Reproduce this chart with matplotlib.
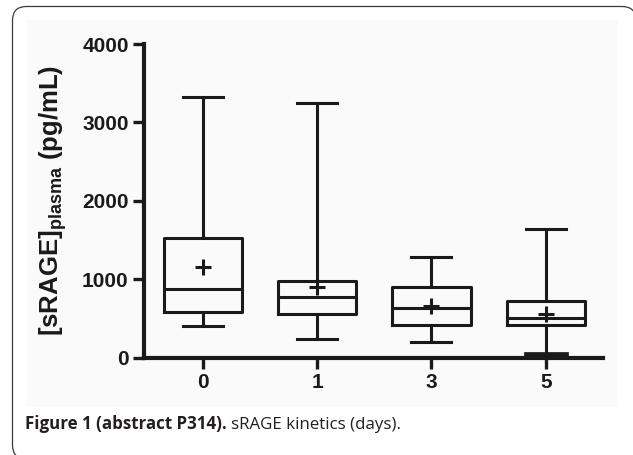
import matplotlib
matplotlib.use("Agg")
import matplotlib.pyplot as plt
from matplotlib.patches import PathPatch, Rectangle
from matplotlib.path import Path
from matplotlib.transforms import IdentityTransform

# ---- data ----
days = ['0', '1', '3', '5']
q1 = [587, 553, 412, 417]
median = [871, 774, 638, 510]
q3 = [1522, 978, 901, 723]
whislo = [404, 242, 200, 45]
whishi = [3328, 3244, 1284, 1637]
mean = [1160, 901, 659, 561]
yticks = [0, 1000, 2000, 3000, 4000]

plt.rcParams['mathtext.fontset'] = 'custom'
plt.rcParams['mathtext.bf'] = 'Liberation Sans:bold'
plt.rcParams['mathtext.rm'] = 'Liberation Sans'

W, H = 633, 455
fig = plt.figure(figsize=(W / 100, H / 100), dpi=100)
fig.patch.set_facecolor('white')

# light grey image region behind the chart
fig.add_artist(Rectangle((27, H - 407), 591, 387, transform=IdentityTransform(),
                         facecolor='#fafafa', edgecolor='none', zorder=0))

# open rounded frame: top edge, left edge, and corners (pixel coordinates)
xl, yt, xr, yb, r = 12.5, H - 6.5, 636.0, -4.0, 14.0
verts = [(xl + r + 20, yb), (xl + r, yb), (xl, yb), (xl, yb + r),
         (xl, yt - r), (xl, yt), (xl + r, yt),
         (xr - r, yt), (xr, yt), (xr, yt - r), (xr, yt - 60)]
codes = [Path.MOVETO, Path.LINETO, Path.CURVE3, Path.CURVE3,
         Path.LINETO, Path.CURVE3, Path.CURVE3,
         Path.LINETO, Path.CURVE3, Path.CURVE3, Path.LINETO]
fig.add_artist(PathPatch(Path(verts, codes), transform=IdentityTransform(),
                         facecolor='none', edgecolor='#3a3a3a', linewidth=0.9, zorder=1))

ax = fig.add_axes([144 / W, (H - 357.7) / H, (603 - 144) / W, (357.7 - 44) / H])
ax.set_facecolor('none')

stats = []
for i in range(len(days)):
    stats.append(dict(label=days[i], q1=q1[i], med=median[i], q3=q3[i],
                      whislo=whislo[i], whishi=whishi[i], mean=mean[i], fliers=[]))

lw = 2.2
col = '#1a1a1a'
parts = ax.bxp(stats, positions=range(len(days)), widths=0.685, showmeans=True,
               showfliers=False, patch_artist=False,
               boxprops=dict(color=col, linewidth=lw),
               medianprops=dict(color=col, linewidth=lw),
               whiskerprops=dict(color=col, linewidth=lw),
               capprops=dict(color=col, linewidth=lw),
               capwidths=0.35,
               meanprops=dict(marker='+', markersize=12, markeredgewidth=lw,
                              markeredgecolor=col, markerfacecolor=col))
parts['caps'][6].set_linewidth(3.4)
for a in ax.get_children():
    try:
        a.set_clip_on(False)
    except Exception:
        pass

ax.set_xlim(-0.513, 3.5)
ax.set_ylim(0, 4000)
ax.set_yticks(yticks)
ax.set_yticklabels([str(v) for v in yticks])
ax.set_xticks(range(len(days)))
ax.set_xticklabels(days)

for s in ['top', 'right']:
    ax.spines[s].set_visible(False)
for s in ['left', 'bottom']:
    ax.spines[s].set_linewidth(3.0)
    ax.spines[s].set_color(col)
    ax.spines[s].set_capstyle('projecting')

ax.tick_params(axis='both', width=2.4, length=8, color=col, pad=3,
               labelsize=15, labelcolor=col)
for lab in ax.get_xticklabels() + ax.get_yticklabels():
    lab.set_fontfamily('Liberation Sans')
    lab.set_fontweight('bold')

ax.set_ylabel(r'[sRAGE]$_{\mathbf{plasma}}$ (pg/mL)', fontfamily='Liberation Sans',
              fontweight='bold', fontsize=18.5, color=col)
ax.yaxis.set_label_coords(-0.163, 0.5)

# caption
cap_font = ['Open Sans', 'DejaVu Sans']
t1 = fig.text(25 / W, 1 - 429 / H, 'Figure 1 (abstract P314).', fontfamily=cap_font,
              fontweight='bold', fontsize=12.2, color='#231f20', ha='left', va='baseline')
fig.canvas.draw()
bb = t1.get_window_extent()
fig.text((bb.x1 + 4) / W, 1 - 429 / H, 'sRAGE kinetics (days).', fontfamily=cap_font,
         fontsize=12.2, color='#231f20', ha='left', va='baseline')

fig.savefig('out.png', dpi=100, facecolor='white')
